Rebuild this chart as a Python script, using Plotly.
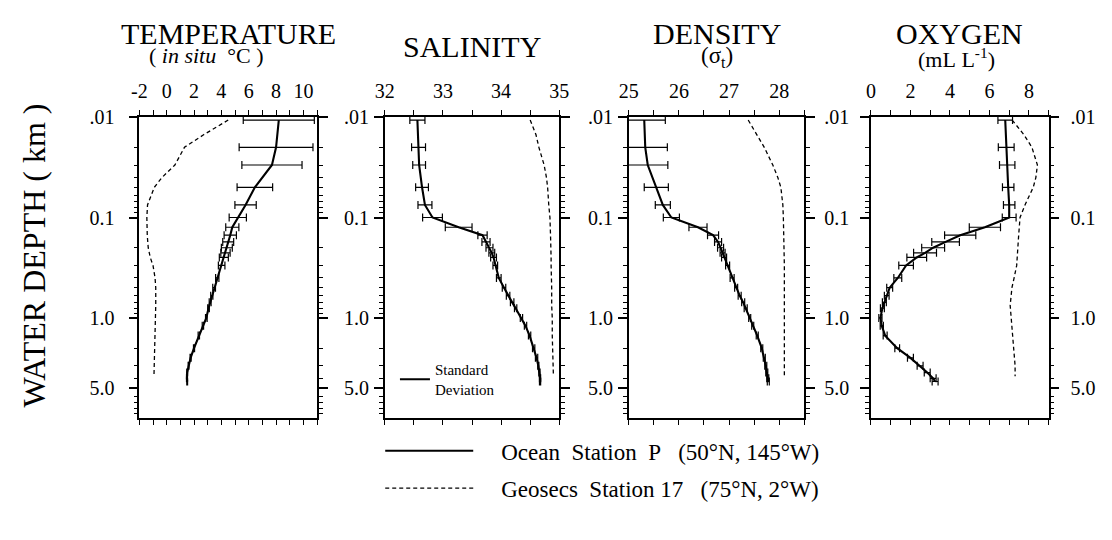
import plotly.graph_objects as go

# ---------------- data ----------------
# Ocean Station P (standard depths, km)
depth_p = [0.0107, 0.02, 0.03, 0.05, 0.075, 0.1, 0.125, 0.15, 0.175, 0.2, 0.225, 0.25, 0.3,
           0.4, 0.5, 0.6, 0.7, 0.8, 1.0, 1.2, 1.5, 2.0, 2.5, 3.0, 3.5, 4.0, 4.3]
temp_p = [8.2, 8.0, 7.7, 6.45, 5.77, 5.2, 4.8, 4.65, 4.5, 4.4, 4.3, 4.18, 4.02,
          3.7, 3.47, 3.3, 3.18, 3.06, 2.9, 2.65, 2.35, 2.0, 1.75, 1.6, 1.5, 1.48, 1.5]
temp_sd = [2.6, 2.7, 2.2, 1.3, 0.78, 0.63, 0.48, 0.45, 0.4, 0.4, 0.34, 0.33, 0.24,
           0.12, 0.1, 0.08, 0.07, 0.06, 0.06, 0.05, 0.05, 0.04, 0.04, 0.03, 0.03, 0.03, 0.03]
sal_p = [32.56, 32.58, 32.59, 32.64, 32.69, 32.82, 33.27, 33.68, 33.74, 33.8, 33.84, 33.87, 33.9,
         33.96, 34.05, 34.12, 34.19, 34.25, 34.35, 34.42, 34.49, 34.56, 34.61, 34.64, 34.66, 34.67, 34.67]
sal_sd = [0.13, 0.12, 0.11, 0.11, 0.12, 0.17, 0.23, 0.08, 0.07, 0.06, 0.05, 0.05, 0.04,
          0.04, 0.03, 0.03, 0.03, 0.02, 0.02, 0.02, 0.02, 0.02, 0.02, 0.01, 0.01, 0.01, 0.01]
dens_p = [25.31, 25.33, 25.38, 25.55, 25.68, 25.85, 26.38, 26.68, 26.78, 26.83, 26.87, 26.9, 26.97,
          27.06, 27.14, 27.21, 27.28, 27.33, 27.41, 27.47, 27.56, 27.65, 27.7, 27.73, 27.75, 27.77, 27.78]
dens_sd = [0.42, 0.44, 0.4, 0.24, 0.15, 0.16, 0.18, 0.11, 0.07, 0.06, 0.05, 0.05, 0.04,
           0.04, 0.03, 0.03, 0.03, 0.03, 0.02, 0.02, 0.02, 0.02, 0.02, 0.02, 0.02, 0.02, 0.02]
oxy_p = [6.8, 6.85, 6.9, 6.95, 7.0, 7.0, 5.77, 4.52, 3.78, 3.15, 2.74, 2.32, 1.78,
         1.36, 0.95, 0.8, 0.68, 0.58, 0.48, 0.55, 0.72, 1.33, 2.0, 2.49, 2.85, 3.15, 3.25]
oxy_sd = [0.37, 0.4, 0.39, 0.29, 0.29, 0.35, 0.79, 0.79, 0.7, 0.58, 0.58, 0.5, 0.37,
          0.2, 0.15, 0.12, 0.1, 0.1, 0.08, 0.08, 0.1, 0.12, 0.15, 0.15, 0.15, 0.15, 0.15]

# Geosecs Station 17
depth_g = [0.0107, 0.015, 0.02, 0.03, 0.04, 0.05, 0.075, 0.1, 0.15, 0.2, 0.25, 0.3, 0.4, 0.5,
           0.75, 1.0, 1.5, 2.0, 3.0, 3.8]
temp_g = [4.5, 2.7, 1.3, 0.6, -0.35, -0.9, -1.4, -1.45, -1.42, -1.35, -1.2, -1.0, -0.85, -0.8,
          -0.8, -0.82, -0.9, -0.92, -0.93, -0.93]
sal_g = [34.5, 34.6, 34.65, 34.74, 34.78, 34.8, 34.82, 34.84, 34.85, 34.86, 34.86, 34.86, 34.87, 34.87,
         34.87, 34.88, 34.88, 34.89, 34.9, 34.9]
dens_g = [27.38, 27.56, 27.7, 27.87, 27.97, 28.03, 28.07, 28.08, 28.09, 28.1, 28.1, 28.1, 28.1, 28.1,
          28.1, 28.1, 28.1, 28.1, 28.1, 28.1]
oxy_g = [7.15, 7.75, 8.15, 8.43, 8.35, 8.22, 7.8, 7.55, 7.48, 7.45, 7.42, 7.38, 7.25, 7.14,
         7.05, 7.1, 7.18, 7.25, 7.3, 7.3]

depth_tickvals = [0.01, 0.1, 1.0, 5.0]
depth_ticktext = [".01", "0.1", "1.0", "5.0"]

temp_ticks = [-2, 0, 2, 4, 6, 8, 10]
temp_ticktext = ["-2", "0", "2", "4", "6", "8", "10"]
sal_ticks = [32, 33, 34, 35]
dens_ticks = [25, 26, 27, 28]
oxy_ticks = [0, 2, 4, 6, 8]

titles = ["TEMPERATURE", "SALINITY", "DENSITY", "OXYGEN"]
subtitles = ["(\u00a0<i>in\u00a0situ</i>\u00a0\u00a0°C\u00a0)", None, "(σ<sub>t</sub>)", "(mL\u00a0L<sup>-1</sup>)"]
legend_p = "\u00a0\u00a0\u00a0\u00a0Ocean\u00a0\u00a0Station\u00a0\u00a0P\u00a0\u00a0\u00a0(50°N, 145°W)"
legend_g = "\u00a0\u00a0\u00a0\u00a0Geosecs\u00a0\u00a0Station\u00a017\u00a0\u00a0\u00a0(75°N, 2°W)"
legend_sd = "Standard<br>Deviation"

# ---------------- layout helpers ----------------
W, H = 1112, 540
FONT = "Liberation Serif, Times New Roman, serif"


def fx(px):
    return px / W


def fy(py):
    return 1 - py / H


x_dom_px = [(131.7, 312.7), (381.7, 559.3), (630.0, 809.0), (876.7, 1057.7)]
y_dom = [fy(415.8), fy(108.3)]
x_ranges = [[-2, 11], [32, 35], [25, 28.5], [0, 9]]
x_tick_lists = [temp_ticks, sal_ticks, dens_ticks, oxy_ticks]
x_tick_texts = [temp_ticktext, [str(v) for v in sal_ticks], [str(v) for v in dens_ticks],
                [str(v) for v in oxy_ticks]]
x_minor = [1, 0.5, 0.5, 1]
right_standoff = [12, 14, 5, 7]
title_y = [22.5, 36, 22.5, 22.5]
sub_x = [0.377, 0.5, 0.5, 0.48]
sub_y = [45, None, 47, 48]
sub_size = [22, None, 23, 22]

minor_depths = []
for dec in [0.01, 0.1, 1.0]:
    for k in range(2, 10):
        v = round(k * dec, 4)
        if v != 5.0:
            minor_depths.append(v)

panels = [
    (temp_p, temp_sd, temp_g),
    (sal_p, sal_sd, sal_g),
    (dens_p, dens_sd, dens_g),
    (oxy_p, oxy_sd, oxy_g),
]

fig = go.Figure()

for i, (pv, sd, gv) in enumerate(panels):
    n = i + 1
    xa = "x" if n == 1 else f"x{n}"
    ya = "y" if n == 1 else f"y{n}"
    fig.add_trace(go.Scatter(
        x=pv, y=depth_p, xaxis=xa, yaxis=ya, mode="lines",
        line=dict(color="black", width=2.1),
        error_x=dict(type="data", array=sd, visible=True, thickness=1.2, width=4, color="black"),
        name=legend_p, showlegend=(n == 1), legend="legend",
    ))
    fig.add_trace(go.Scatter(
        x=gv, y=depth_g, xaxis=xa, yaxis=f"y{n + 4}", mode="lines",
        line=dict(color="black", width=1.3, dash="4px,3px"),
        name=legend_g, showlegend=(n == 1), legend="legend2",
    ))

# key for the standard deviation bars
fig.add_trace(go.Scatter(
    x=[None], y=[None], xaxis="x2", yaxis="y2", mode="lines",
    line=dict(color="black", width=2), name=legend_sd, showlegend=True, legend="legend3",
))

layout = dict(
    width=W, height=H, margin=dict(l=0, r=0, t=0, b=0),
    paper_bgcolor="white", plot_bgcolor="white",
    font=dict(family=FONT, size=20, color="black"),
    legend=dict(x=fx(377), y=fy(449), xanchor="left", yanchor="middle", itemwidth=88,
                font=dict(size=23, family=FONT), bgcolor="rgba(0,0,0,0)", borderwidth=0),
    legend2=dict(x=fx(377), y=fy(487), xanchor="left", yanchor="middle", itemwidth=88,
                 font=dict(size=23, family=FONT), bgcolor="rgba(0,0,0,0)", borderwidth=0),
    legend3=dict(x=fx(392), y=fy(376), xanchor="left", yanchor="middle", itemwidth=30,
                 font=dict(size=15, family=FONT), bgcolor="rgba(0,0,0,0)", borderwidth=0),
)

for i in range(4):
    n = i + 1
    sfx = "" if n == 1 else str(n)
    anchor_x = "x" if n == 1 else f"x{n}"
    anchor_y = "y" if n == 1 else f"y{n}"
    layout[f"xaxis{sfx}"] = dict(
        domain=[fx(x_dom_px[i][0]), fx(x_dom_px[i][1])], range=x_ranges[i],
        anchor=anchor_y, side="top", tickmode="array", tickvals=x_tick_lists[i],
        ticktext=x_tick_texts[i],
        ticks="outside", ticklen=5, tickwidth=1.3, tickcolor="black",
        minor=dict(dtick=x_minor[i], tick0=x_ranges[i][0], ticks="outside", ticklen=3,
                   tickwidth=1, tickcolor="black"),
        showline=True, linecolor="black", linewidth=1.6, mirror="allticks",
        showgrid=False, zeroline=False, tickfont=dict(size=20), ticklabelstandoff=4,
        fixedrange=True,
    )
    layout[f"yaxis{sfx}"] = dict(
        domain=y_dom, type="log", range=[1, -2], anchor=anchor_x, side="left",
        tickmode="array", tickvals=depth_tickvals, ticktext=depth_ticktext,
        showticklabels=(n == 1),
        ticks="outside", ticklen=9, tickwidth=1.6, tickcolor="black",
        minor=dict(tickmode="array", tickvals=minor_depths, ticks="outside", ticklen=4,
                   tickwidth=1, tickcolor="black"),
        showline=True, linecolor="black", linewidth=1.6, mirror=False,
        showgrid=False, zeroline=False, tickfont=dict(size=20), ticklabelstandoff=10,
        fixedrange=True,
    )
    layout[f"yaxis{n + 4}"] = dict(
        overlaying=anchor_y, domain=y_dom, type="log", range=[1, -2], anchor=anchor_x, side="right",
        tickmode="array", tickvals=depth_tickvals, ticktext=depth_ticktext,
        showticklabels=True,
        ticks="outside", ticklen=9, tickwidth=1.6, tickcolor="black",
        minor=dict(tickmode="array", tickvals=minor_depths, ticks="outside", ticklen=4,
                   tickwidth=1, tickcolor="black"),
        showline=True, linecolor="black", linewidth=1.6,
        showgrid=False, zeroline=False, tickfont=dict(size=20),
        ticklabelstandoff=right_standoff[i], fixedrange=True,
    )

annotations = []
for i in range(4):
    n = i + 1
    xd = "x domain" if n == 1 else f"x{n} domain"
    annotations.append(dict(text=titles[i], xref=xd, yref="paper", x=0.5, y=fy(title_y[i]),
                            xanchor="center", yanchor="middle", showarrow=False,
                            font=dict(size=30, family=FONT)))
    if subtitles[i]:
        annotations.append(dict(text=subtitles[i], xref=xd, yref="paper", x=sub_x[i], y=fy(sub_y[i]),
                                xanchor="center", yanchor="middle", showarrow=False,
                                font=dict(size=sub_size[i], family=FONT)))
annotations.append(dict(text="WATER DEPTH ( km )", xref="paper", yref="paper", x=fx(24), y=fy(250),
                        textangle=-90, xanchor="center", yanchor="middle", showarrow=False,
                        font=dict(size=32, family=FONT)))
layout["annotations"] = annotations

fig.update_layout(**layout)
fig.write_html("out.html", post_script="document.body.style.margin='0';document.body.style.padding='0';")
